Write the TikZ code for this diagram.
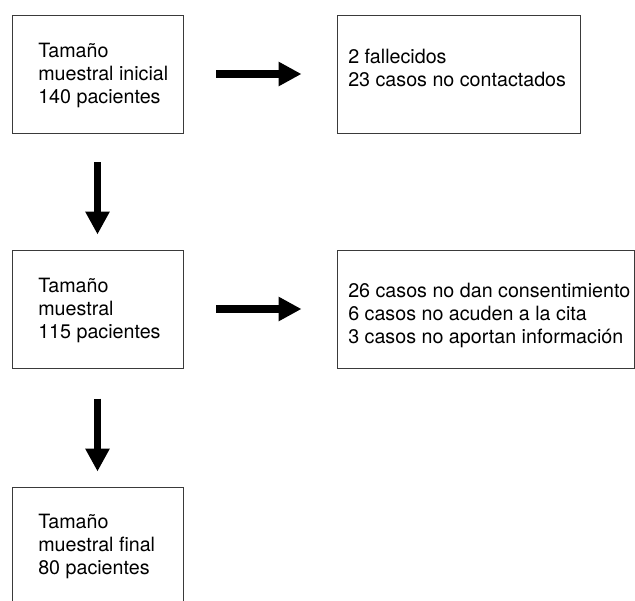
\documentclass[tikz,border=0pt]{standalone}
\usepackage{fontspec}
\setmainfont{TeX Gyre Heros}
\usetikzlibrary{arrows.meta}
\definecolor{Frame}{HTML}{3A3A3A}
\definecolor{Ink}{HTML}{000000}

\begin{document}
\begin{tikzpicture}[
    box/.style={draw=Frame,line width=.7pt,minimum height=2.95cm,inner sep=0pt},
    txt/.style={anchor=north west,inner sep=0pt,align=left,text=Ink,font=\fontsize{14}{16.3}\selectfont},
    arr/.style={-{Triangle[length=.57cm,width=.57cm]},line width=.19cm,draw=Ink}
  ]
    \useasboundingbox (0,0) rectangle (15.875,-15);
    % left column
    \node[box,minimum width=4.275cm] (ini) at (2.4375,-1.85) {};
    \node[box,minimum width=4.275cm] (mue) at (2.4375,-7.725) {};
    \node[box,minimum width=4.275cm] (fin) at (2.4375,-13.65) {};
    % right column
    \node[box,minimum width=6.075cm] (fal) at (11.4625,-1.85) {};
    \node[box,minimum width=7.425cm] (exc) at (12.1375,-7.725) {};
    % texts
    \node[txt] (iniT) at (0.95,-1.075) {Tamaño\\muestral inicial\\140 pacientes};
    \node[txt] (mueT) at (0.95,-6.95) {Tamaño\\muestral\\115 pacientes};
    \node[txt] (finT) at (0.95,-12.85) {Tamaño\\muestral final\\80 pacientes};
    \node[txt] (falT) at (8.7,-1.225) {2 fallecidos\\23 casos no contactados};
    \node[txt] (excT) at (8.7,-7.075) {26 casos no dan consentimiento\\6 casos no acuden a la cita\\3 casos no aportan información};
    % arrows
    \draw[arr,shorten <=.825cm,shorten >=.875cm] (ini) -- (fal);
    \draw[arr,shorten <=.825cm,shorten >=.875cm] (mue) -- (exc.west |- mue);
    \draw[arr,shorten <=.725cm,shorten >=.375cm] (ini) -- (mue);
    \draw[arr,shorten <=.75cm,shorten >=.375cm] (mue) -- (fin);
\end{tikzpicture}
\end{document}
